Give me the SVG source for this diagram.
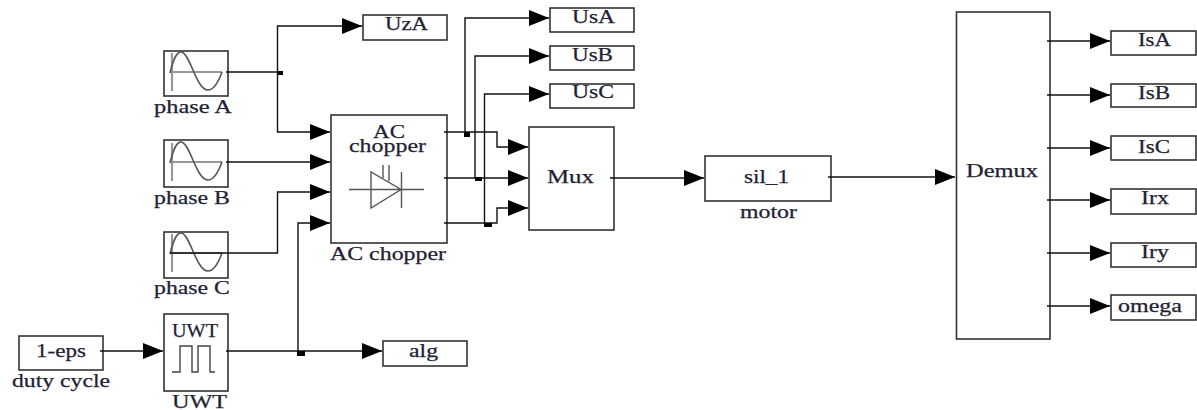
<svg xmlns="http://www.w3.org/2000/svg" width="1197" height="410" viewBox="0 0 1197 410">
<style>
.b{fill:#fff;stroke:#333;stroke-width:1.6}
.c{fill:none;stroke:#111;stroke-width:1.4}
.a{marker-end:url(#ah)}
.g{fill:none;stroke:#999;stroke-width:2.2}
.s{fill:none;stroke:#444;stroke-width:1.4}
.d{fill:none;stroke:#555;stroke-width:1.4}
.t{font-family:"Liberation Serif","Times New Roman",serif;font-size:19px;fill:#223;stroke:#223;stroke-width:.25}
.j{fill:#000}
</style>
<defs>
<marker id="ah" markerUnits="userSpaceOnUse" markerWidth="21" markerHeight="16" refX="20" refY="8" orient="auto"><path d="M0 0L20 8L0 16Z" fill="#000"/></marker>
<path id="sine" d="M6 22C10 6 13 1 17 1C26 1 32 39 44 39C50 39 54 32 58 21" fill="none" stroke="#555" stroke-width="1.6"/>
</defs>
<rect width="1197" height="410" fill="#fff"/>
<g id="phaseA"><rect class="b" x="164" y="51" width="64" height="45"/><g transform="translate(164,51)"><path class="g" d="M8 2V40M6 21H58"/><use href="#sine"/></g><text class="t" x="154" y="113" textLength="78" lengthAdjust="spacingAndGlyphs">phase A</text></g>
<g id="phaseB"><rect class="b" x="164" y="140" width="64" height="47"/><g transform="translate(164,141)"><path class="g" d="M8 2V40M6 21H58"/><use href="#sine"/></g><text class="t" x="154" y="204" textLength="76" lengthAdjust="spacingAndGlyphs">phase B</text></g>
<g id="phaseC"><rect class="b" x="164" y="232" width="64" height="46"/><g transform="translate(164,232)"><path class="g" d="M8 2V40M6 21H58"/><use href="#sine"/></g><text class="t" x="154" y="294" textLength="76" lengthAdjust="spacingAndGlyphs">phase C</text></g>
<g id="dutyCycle"><rect class="b" x="19" y="336" width="84" height="34"/><text class="t" x="36" y="357" textLength="50" lengthAdjust="spacingAndGlyphs">1-eps</text><text class="t" x="12" y="387" textLength="98" lengthAdjust="spacingAndGlyphs">duty cycle</text></g>
<g id="UWT"><rect class="b" x="164" y="314" width="64" height="77"/><text class="t" x="172" y="337" textLength="46" lengthAdjust="spacingAndGlyphs">UWT</text><path class="s" d="M172 372H180V346H192V372H198V346H210V372H215"/><text class="t" x="172" y="408" textLength="55" lengthAdjust="spacingAndGlyphs">UWT</text></g>
<g id="ACchopper"><rect class="b" x="331" y="115" width="116" height="128"/><text class="t" x="373" y="138" textLength="32" lengthAdjust="spacingAndGlyphs">AC</text><text class="t" x="349" y="152" textLength="77" lengthAdjust="spacingAndGlyphs">chopper</text><path class="d" d="M349 189.500H424M371 172V208L401 189.500ZM401.500 172V208M383 165V178M389 165V181"/><text class="t" x="330" y="260" textLength="116" lengthAdjust="spacingAndGlyphs">AC chopper</text></g>
<g id="UzA"><rect class="b" x="363" y="15" width="84" height="25"/><text class="t" x="385" y="30" textLength="43" lengthAdjust="spacingAndGlyphs">UzA</text></g>
<g id="alg"><rect class="b" x="383" y="341" width="84" height="25"/><text class="t" x="409" y="357" textLength="29" lengthAdjust="spacingAndGlyphs">alg</text></g>
<g id="UsA"><rect class="b" x="550" y="8" width="84" height="24"/><text class="t" x="572" y="23" textLength="43" lengthAdjust="spacingAndGlyphs">UsA</text></g>
<g id="UsB"><rect class="b" x="550" y="46" width="84" height="24"/><text class="t" x="572" y="61" textLength="41" lengthAdjust="spacingAndGlyphs">UsB</text></g>
<g id="UsC"><rect class="b" x="550" y="84" width="84" height="24"/><text class="t" x="572" y="98" textLength="42" lengthAdjust="spacingAndGlyphs">UsC</text></g>
<g id="Mux"><rect class="b" x="529" y="127" width="85" height="103"/><text class="t" x="547" y="183" textLength="47" lengthAdjust="spacingAndGlyphs">Mux</text></g>
<g id="motor"><rect class="b" x="705" y="156" width="126" height="45"/><text class="t" x="744" y="183" textLength="45" lengthAdjust="spacingAndGlyphs">sil_1</text><text class="t" x="740" y="218" textLength="57" lengthAdjust="spacingAndGlyphs">motor</text></g>
<g id="Demux"><rect class="b" x="956.500" y="12" width="93.500" height="327"/><text class="t" x="966" y="177" textLength="72" lengthAdjust="spacingAndGlyphs">Demux</text></g>
<g id="IsA"><rect class="b" x="1111" y="31" width="85" height="24"/><text class="t" x="1138" y="46" textLength="33" lengthAdjust="spacingAndGlyphs">IsA</text></g>
<g id="IsB"><rect class="b" x="1111" y="84" width="85" height="23"/><text class="t" x="1138" y="99" textLength="32" lengthAdjust="spacingAndGlyphs">IsB</text></g>
<g id="IsC"><rect class="b" x="1111" y="136" width="85" height="24"/><text class="t" x="1138" y="153" textLength="32" lengthAdjust="spacingAndGlyphs">IsC</text></g>
<g id="Irx"><rect class="b" x="1111" y="189" width="85" height="25"/><text class="t" x="1141" y="204" textLength="28" lengthAdjust="spacingAndGlyphs">Irx</text></g>
<g id="Iry"><rect class="b" x="1111" y="243" width="85" height="24"/><text class="t" x="1141" y="258" textLength="28" lengthAdjust="spacingAndGlyphs">Iry</text></g>
<g id="omega"><rect class="b" x="1111" y="295" width="85" height="25"/><text class="t" x="1118" y="312" textLength="64" lengthAdjust="spacingAndGlyphs">omega</text></g>
<g id="connectors">
<path class="c" d="M226 72H277.500"/>
<path class="c a" d="M277.500 72V26H362"/>
<path class="c a" d="M277.500 72V132H330"/>
<path class="c a" d="M226 162H330"/>
<path class="c a" d="M170 253H277.500V192H330"/>
<path class="c a" d="M100 351H163"/>
<path class="c a" d="M226 351H382"/>
<path class="c a" d="M298 351V223H330"/>
<path class="c a" d="M444 132H497V147H528"/>
<path class="c a" d="M444 178H528"/>
<path class="c a" d="M444 223H497V208H528"/>
<path class="c a" d="M465 132V18H549"/>
<path class="c a" d="M475 178V56H549"/>
<path class="c a" d="M484.500 223V94H549"/>
<path class="c a" d="M610 178H704"/>
<path class="c a" d="M828 177H955"/>
<path class="c a" d="M1047 41H1110"/>
<path class="c a" d="M1047 95H1110"/>
<path class="c a" d="M1047 148H1110"/>
<path class="c a" d="M1047 200H1110"/>
<path class="c a" d="M1047 253H1110"/>
<path class="c a" d="M1047 306H1110"/>
<rect class="j" x="278" y="71" width="5" height="4"/>
<rect class="j" x="297" y="351" width="8" height="5"/>
<rect class="j" x="464" y="132" width="6" height="5"/>
<rect class="j" x="475" y="177" width="7" height="4"/>
<rect class="j" x="484" y="223" width="8" height="4"/>
</g>
</svg>
